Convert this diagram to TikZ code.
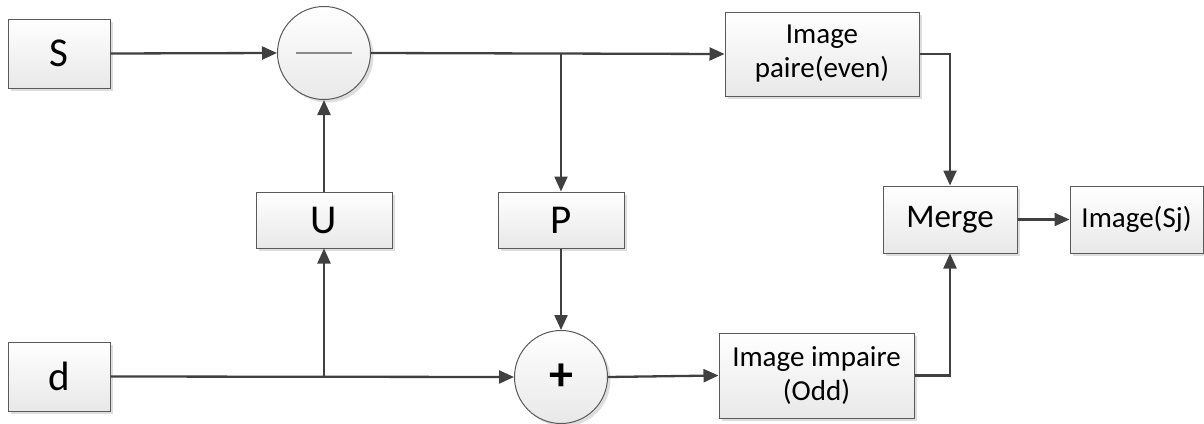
\documentclass[tikz,border=0pt]{standalone}
\usepackage{fontspec}
\setmainfont{Carlito}
\usetikzlibrary{arrows.meta,shadows,calc}
\definecolor{linec}{HTML}{404040}
\definecolor{edgec}{HTML}{5A5A5A}
\definecolor{barc}{HTML}{8A8A8A}
\tikzset{
  blk/.style={draw=edgec, line width=1pt, top color=white, bottom color=black!9,
    drop shadow={shadow xshift=3pt, shadow yshift=-3pt, fill=black!13, opacity=1},
    inner sep=0pt, align=center},
  sumnode/.style={blk, circle, minimum size=93pt},
  flow/.style={draw=linec, line width=2.3pt, -{Triangle[length=15pt,width=13pt]}},
  big/.style={font=\fontsize{41}{41}\selectfont},
  mid/.style={font=\fontsize{33}{33}\selectfont},
  small/.style={font=\fontsize{29}{34}\selectfont},
}
\begin{document}
\begin{tikzpicture}[x=1pt, y=-1pt]
\useasboundingbox (0,0) rectangle (1204,423);

% blocks
\node[blk, big, minimum width=102pt, minimum height=69pt] (S) at (59,53.5) {S};
\node[blk, big, minimum width=102pt, minimum height=69pt] (d) at (59,376.5) {d};
\node[blk, big, minimum width=136pt, minimum height=56pt] (U) at (324,220) {U};
\node[blk, big, minimum width=126pt, minimum height=56pt] (P) at (561,220) {P};
\node[blk, small, minimum width=194pt, minimum height=84pt] (even) at (822,54) {Image\\paire(even)};
\node[blk, small, minimum width=195pt, minimum height=85pt] (odd) at (816.5,375.5) {Image impaire\\(Odd)};
\node[blk, mid, minimum width=134pt, minimum height=67pt] (merge) at (950,219.5) {Merge};
\node[blk, small, minimum width=133pt, minimum height=67pt] (out) at (1136.5,219.5) {Image(Sj)};

% summing junctions
\node[sumnode] (minus) at (324,53) {};
\draw[barc, line width=1.3pt] ($(minus.center)+(-28,0)$) -- ($(minus.center)+(28,0)$);
\node[sumnode, font=\fontsize{48}{48}\selectfont\bfseries] (plus) at (561,377) {+};

% branch points
\coordinate (jP) at (P.north |- minus.east);
\coordinate (jU) at (U.south |- d.east);

% connectors
\draw[flow] (S.east) -- (minus.west);
\draw[flow] (minus.east) -- (even.west);
\draw[flow] (jP) -- (P.north);
\draw[flow] (P.south) -- (plus.north);
\draw[flow] (d.east) -- (plus.west);
\draw[flow] (jU) -- (U.south);
\draw[flow] (U.north) -- (minus.south);
\draw[flow] (plus.east) -- (odd.west);
\draw[flow] (odd.east) -| (merge.south);
\draw[flow] (even.east) -| (merge.north);
\draw[flow] (merge.east) -- (out.west);
\end{tikzpicture}
\end{document}
